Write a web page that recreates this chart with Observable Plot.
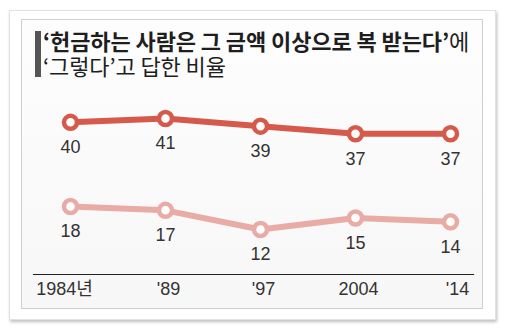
<!DOCTYPE html>
<html><head><meta charset="utf-8">
<script src="https://cdn.jsdelivr.net/npm/d3@7"></script>
<script src="https://cdn.jsdelivr.net/npm/@observablehq/plot@0.6"></script>
<style>
body{margin:0;background:#fff;width:506px;height:330px;overflow:hidden;position:relative;font-family:"Liberation Sans","Noto Sans CJK KR",sans-serif;}
#outer{position:absolute;left:9px;top:10px;width:487px;height:310px;background:#fff;border:1px solid #e2e2e2;box-shadow:1px 2px 3px rgba(0,0,0,0.25);box-sizing:border-box;}
#inner{position:absolute;left:21px;top:19px;width:462px;height:290px;border:1px solid #cfcfcf;background:linear-gradient(#fdfdfd,#f7f7f7);box-sizing:border-box;}
#bar{position:absolute;left:35px;top:31px;width:6px;height:46px;background:#555;}
#title{position:absolute;left:43px;top:28px;font-family:"Noto Sans CJK KR",sans-serif;font-size:22px;line-height:25px;color:#1e1e1e;letter-spacing:-0.1px;white-space:nowrap;}
#title b{font-weight:700;}
#title .r{font-weight:400;}
#chart{position:absolute;left:0;top:0;}
</style></head><body>
<div id="outer"></div>
<div id="inner"></div>
<div id="bar"></div>
<div id="title"><b>‘헌금하는 사람은 그 금액 이상으로 복 받는다’</b><span class="r">에</span><br><span class="r">‘그렇다’고 답한 비율</span></div>
<div id="chart"></div>
<script>
const years = ["1984","1989","1997","2004","2014"];
const tickLabels = ["1984년","'89","'97","2004","'14"];
const seriesA = [40, 41, 39, 37, 37];
const seriesB = [18, 17, 12, 15, 14];
const colorA = "#d65a4c";
const colorB = "#e8aba6";

const rows = [];
years.forEach((y,i)=>{ rows.push({year:y, value:seriesA[i], s:"A"}); });
years.forEach((y,i)=>{ rows.push({year:y, value:seriesB[i], s:"B"}); });
const A = rows.filter(d=>d.s==="A"), B = rows.filter(d=>d.s==="B");

const plot = Plot.plot({
  width: 506, height: 330,
  marginLeft: 33, marginRight: 33, marginTop: 90, marginBottom: 56,
  style: {background: "transparent", fontFamily: "'Liberation Sans','Noto Sans CJK KR',sans-serif", overflow: "visible"},
  x: {type: "point", domain: years, range: [69, 451], padding: 0, axis: null, label: null},
  y: {domain: [12, 41], range: [229, 118], axis: null, label: null},
  marks: [
    Plot.frame({anchor: "bottom", stroke: "#222", strokeWidth: 1.2}),
    Plot.axisX({ticks: years.slice(0,1), tickSize: 0, tickPadding: 8, fontSize: 18, fill: "#333", label: null, tickFormat: (d)=>tickLabels[years.indexOf(d)], anchor: "bottom", dx: -6}),
    Plot.axisX({ticks: years.slice(1,4), tickSize: 0, tickPadding: 8, fontSize: 18, fill: "#333", label: null, tickFormat: (d)=>tickLabels[years.indexOf(d)], anchor: "bottom", dx: 3}),
    Plot.axisX({ticks: years.slice(4), tickSize: 0, tickPadding: 8, fontSize: 18, fill: "#333", label: null, tickFormat: (d)=>tickLabels[years.indexOf(d)], anchor: "bottom", dx: 7}),
    Plot.line(A, {x: "year", y: "value", stroke: colorA, strokeWidth: 6}),
    Plot.line(B, {x: "year", y: "value", stroke: colorB, strokeWidth: 6}),
    Plot.dot(A, {x: "year", y: "value", r: 6.5, fill: "#fff", stroke: colorA, strokeWidth: 4.5}),
    Plot.dot(B, {x: "year", y: "value", r: 6.5, fill: "#fff", stroke: colorB, strokeWidth: 4.5}),
    Plot.text(A, {x: "year", y: "value", text: d=>String(d.value), dy: 25, fontSize: 18, fill: "#333"}),
    Plot.text(B, {x: "year", y: "value", text: d=>String(d.value), dy: 25, fontSize: 18, fill: "#333"})
  ]
});
document.getElementById("chart").appendChild(plot);
</script>
</body></html>
